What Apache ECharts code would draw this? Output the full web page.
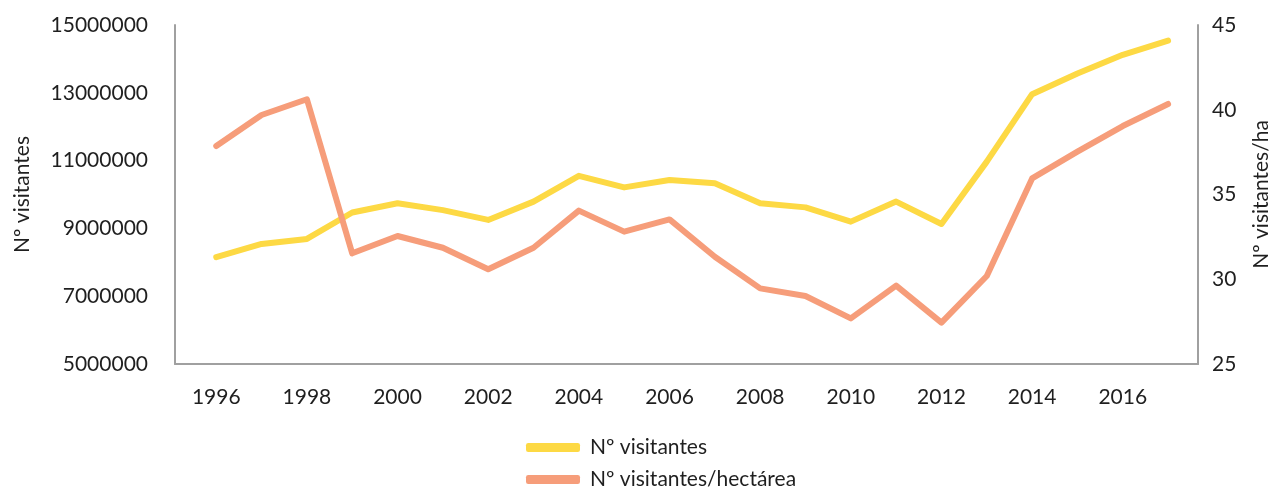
<!DOCTYPE html>
<html>
<head>
<meta charset="utf-8">
<script src="https://cdn.jsdelivr.net/npm/echarts@6/dist/echarts.min.js"></script>
<style>
html,body{margin:0;padding:0;background:#fff;}
#chart{width:1271px;height:488px;}
</style>
</head>
<body>
<div id="chart"></div>
<script>
const years = [1996,1997,1998,1999,2000,2001,2002,2003,2004,2005,2006,2007,2008,2009,2010,2011,2012,2013,2014,2015,2016,2017];
const tickYears = [1996,1998,2000,2002,2004,2006,2008,2010,2012,2014,2016];
const visitantes = [8150000,8540000,8690000,9470000,9740000,9540000,9250000,9790000,10550000,10210000,10430000,10330000,9740000,9620000,9200000,9790000,9130000,10970000,12960000,13570000,14120000,14540000];
const visitantesHa = [37.86,39.69,40.62,31.53,32.55,31.86,30.59,31.86,34.05,32.81,33.53,31.33,29.46,29.01,27.69,29.62,27.44,30.19,35.95,37.53,39.04,40.34];
const leftTicks = {min:5000000, max:15000000, interval:2000000};
const rightTicks = {min:25, max:45, interval:5};
const seriesNames = ['Nº visitantes','Nº visitantes/hectárea'];
const axisNames = ['Nº visitantes','Nº visitantes/ha'];

const FONT = 'Lato';
const FS = 21;
const TXT = '#1f1f1f';
const AX = '#a0a0a0';

const legendBase = {
  orient:'horizontal', left:526, padding:0,
  itemWidth:54, itemHeight:9, icon:'roundRect',
  textStyle:{fontFamily:FONT, fontSize:FS, color:TXT, padding:[0,0,0,5]}
};

const chart = echarts.init(document.getElementById('chart'), null, {renderer:'canvas'});
chart.setOption({
  backgroundColor:'#fff',
  animation:false,
  textStyle:{fontFamily:FONT},
  grid:{left:175, right:73, top:25, bottom:124, containLabel:false, outerBoundsMode:'none'},
  legend:[
    Object.assign({}, legendBase, {top:437, data:[seriesNames[0]]}),
    Object.assign({}, legendBase, {top:469, data:[seriesNames[1]]})
  ],
  xAxis:{
    type:'value', min:1995.09, max:2017.66,
    axisLine:{show:true, lineStyle:{color:AX, width:2}},
    axisTick:{show:false},
    splitLine:{show:false},
    axisLabel:{customValues:tickYears, fontFamily:FONT, fontSize:FS, color:TXT, margin:23, formatter:v=>String(v)}
  },
  yAxis:[{
    type:'value', min:leftTicks.min, max:leftTicks.max, interval:leftTicks.interval,
    name:axisNames[0], nameLocation:'middle', nameGap:142, nameRotate:90,
    nameTextStyle:{fontFamily:FONT, fontSize:FS, color:TXT},
    axisLine:{show:true, lineStyle:{color:AX, width:2}},
    axisTick:{show:false}, splitLine:{show:false},
    axisLabel:{fontFamily:FONT, fontSize:FS, color:TXT, margin:27, formatter:v=>String(v)}
  },{
    type:'value', min:rightTicks.min, max:rightTicks.max, interval:rightTicks.interval,
    name:axisNames[1], nameLocation:'middle', nameGap:53, nameRotate:90,
    nameMoveOverlap:false,
    nameTextStyle:{fontFamily:FONT, fontSize:FS, color:TXT},
    axisLine:{show:true, lineStyle:{color:AX, width:2}},
    axisTick:{show:false}, splitLine:{show:false},
    axisLabel:{fontFamily:FONT, fontSize:FS, color:TXT, margin:14}
  }],
  series:[{
    name:seriesNames[0], type:'line', yAxisIndex:0, showSymbol:false, symbol:'none',
    lineStyle:{color:'#FDD944', width:6, cap:'round', join:'round'},
    itemStyle:{color:'#FDD944'},
    data:years.map((y,i)=>[y, visitantes[i]])
  },{
    name:seriesNames[1], type:'line', yAxisIndex:1, showSymbol:false, symbol:'none',
    lineStyle:{color:'#F69D7A', width:6, cap:'round', join:'round'},
    itemStyle:{color:'#F69D7A'},
    data:years.map((y,i)=>[y, visitantesHa[i]])
  }]
});
</script>
</body>
</html>
